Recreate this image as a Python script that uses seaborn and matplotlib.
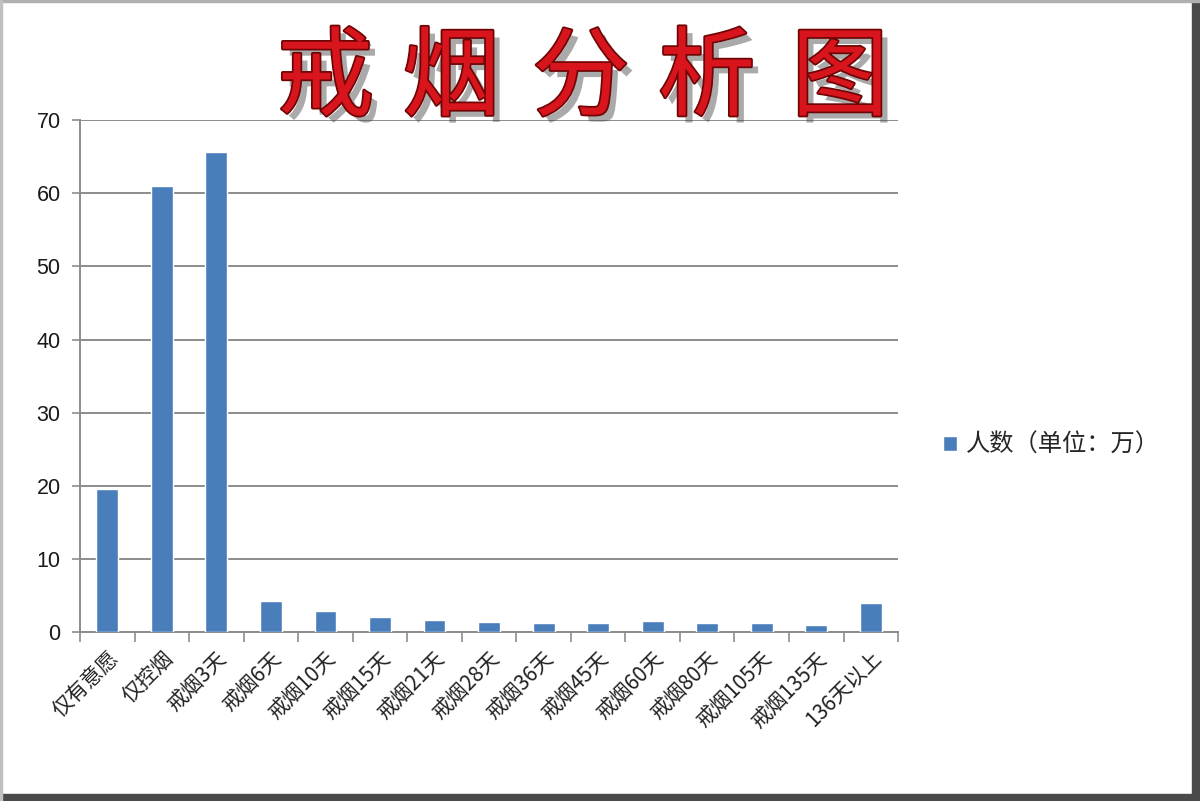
import numpy as np
import pandas as pd
import matplotlib
matplotlib.use("Agg")
import matplotlib.pyplot as plt
import matplotlib.patheffects as pe
from matplotlib.patches import Rectangle
import seaborn as sns

categories = ["仅有意愿", "仅控烟", "戒烟3天", "戒烟6天", "戒烟10天", "戒烟15天",
              "戒烟21天", "戒烟28天", "戒烟36天", "戒烟45天", "戒烟60天", "戒烟80天",
              "戒烟105天", "戒烟135天", "136天以上"]
people = [19.5, 61.0, 65.6, 4.3, 2.9, 2.0, 1.7, 1.4, 1.2, 1.2, 1.5, 1.2, 1.2, 0.9, 4.0]
series_name = "人数（单位：万）"
title_chars = ["戒", "烟", "分", "析", "图"]

df = pd.DataFrame({"cat": categories, "val": people})

sns.set_theme(style="white")
plt.rcParams['font.family'] = ['Noto Sans CJK SC', 'DejaVu Sans']

fig = plt.figure(figsize=(12, 8.01), dpi=100)
ax = fig.add_axes([0.0667, 0.211, 0.6817, 0.639])

sns.barplot(data=df, x="cat", y="val", color="#4a7ebb", width=0.4,
            saturation=1, ax=ax, label=series_name, zorder=3)

ax.set_ylim(0, 70)
ax.set_yticks(range(0, 71, 10))
ax.set_xlim(-0.5, len(categories) - 0.5)
ax.yaxis.grid(True, color="#8c8c8c", linewidth=1.4)
ax.set_axisbelow(True)
for s in ["top", "right"]:
    ax.spines[s].set_visible(False)
for s in ["left", "bottom"]:
    ax.spines[s].set_color("#8c8c8c")
    ax.spines[s].set_linewidth(1.4)
ax.set_xlabel("")
ax.set_ylabel("")

ax.tick_params(axis="y", left=True, length=6, width=1.2, color="#8c8c8c",
               labelsize=15.5, labelcolor="#1a1a1a", pad=8)
for lab in ax.get_yticklabels():
    lab.set_family(['Liberation Sans', 'DejaVu Sans'])
ax.tick_params(axis="x", which="major", length=0, pad=11)
ax.set_xticks(np.arange(-0.5, len(categories), 1.0), minor=True)
ax.tick_params(axis="x", which="minor", bottom=True, length=7, width=1.2,
               color="#8c8c8c")
ax.set_xticklabels(categories, rotation=45, ha="right", rotation_mode="anchor",
                   fontsize=15, color="#222222")

leg = ax.legend(loc="center left", bbox_to_anchor=(1.028, 0.365), frameon=False,
                fontsize=17.5, handlelength=0.6, handleheight=0.6, handletextpad=0.35)

# title drawn glyph by glyph for the wide letter spacing
xs = [0.271, 0.376, 0.484, 0.589, 0.700]
for ch, x in zip(title_chars, xs):
    fig.text(x, 0.900, ch, fontsize=70, fontweight="medium", color="#d8141c",
             ha="center", va="center",
             path_effects=[pe.SimplePatchShadow(offset=(5, -5), shadow_rgbFace="#444444", alpha=0.45),
                           pe.Stroke(linewidth=2.5, foreground="#6e0505"),
                           pe.Normal()])

# picture frame
fig.patches.append(Rectangle((0.9935, 0), 0.0065, 1, transform=fig.transFigure,
                             color="#4a4a4a", zorder=10))
fig.patches.append(Rectangle((0, 0), 1, 0.009, transform=fig.transFigure,
                             color="#4a4a4a", zorder=10))
fig.patches.append(Rectangle((0, 0.997), 1, 0.003, transform=fig.transFigure,
                             color="#b0b0b0", zorder=10))
fig.patches.append(Rectangle((0, 0), 0.002, 1, transform=fig.transFigure,
                             color="#c0c0c0", zorder=10))

fig.savefig("out.png", dpi=100)
